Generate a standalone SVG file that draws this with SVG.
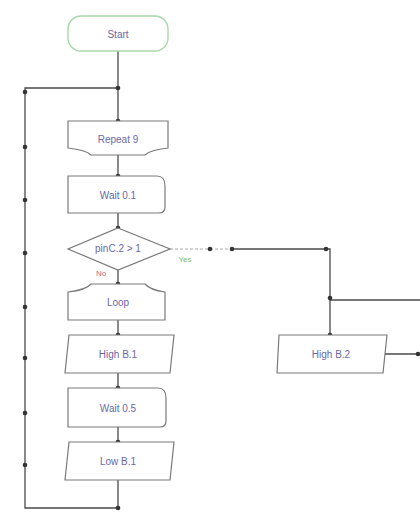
<svg xmlns="http://www.w3.org/2000/svg" width="420" height="514" viewBox="0 0 420 514">
<style>
.box{fill:#ffffff;stroke:#7a7a7a;stroke-width:1.2}
.start{fill:#ffffff;stroke:#a8d8a8;stroke-width:1.4}
.lbl{font-family:"Liberation Sans",Arial,sans-serif;font-size:10px;fill:#6a68a8;text-anchor:middle;dominant-baseline:central}
.ln{fill:none;stroke:#4a4a4a;stroke-width:1.3}
.lt{fill:none;stroke:#aaaaaa;stroke-width:1.2;stroke-dasharray:3 2}
.dot{fill:#333333}
</style>
<rect width="420" height="514" fill="#ffffff"/>
<g id="connectors">
<path class="ln" d="M118 51 V121"/>
<path class="ln" d="M118 88 H25 V508 H118 V480"/>
<path class="ln" d="M118 155 V176"/>
<path class="ln" d="M118 213 V228"/>
<path class="ln" d="M118 270 V284"/>
<path class="ln" d="M118 320 V335"/>
<path class="ln" d="M118 373 V388"/>
<path class="ln" d="M118 427 V442"/>
<path class="lt" d="M170 249 H232"/>
<path class="ln" d="M232 249 H330 V335"/>
<path class="ln" d="M330 300 H420"/>
<path class="ln" d="M385 354 H420"/>
<g class="dot">
<circle cx="118" cy="88" r="2.3"/><circle cx="118" cy="121" r="2.3"/><circle cx="118" cy="176" r="2.3"/>
<circle cx="118" cy="228" r="2.3"/><circle cx="118" cy="284" r="2.3"/><circle cx="118" cy="335" r="2.3"/>
<circle cx="118" cy="388" r="2.3"/><circle cx="118" cy="442" r="2.3"/><circle cx="118" cy="508" r="2.3"/>
<circle cx="25" cy="92" r="2.3"/><circle cx="25" cy="147" r="2.3"/><circle cx="25" cy="200" r="2.3"/>
<circle cx="25" cy="253" r="2.3"/><circle cx="25" cy="307" r="2.3"/><circle cx="25" cy="358" r="2.3"/>
<circle cx="25" cy="413" r="2.3"/><circle cx="25" cy="465" r="2.3"/>
<circle cx="210" cy="249" r="2.3"/><circle cx="232" cy="249" r="2.3"/><circle cx="326" cy="249" r="2.3"/>
<circle cx="330" cy="298" r="2.3"/><circle cx="330" cy="335" r="2.3"/><circle cx="418" cy="354" r="2.3"/>
</g>
<text x="185" y="259" class="lbl" style="fill:#7bbf7b;font-size:8px">Yes</text>
<text x="101" y="273" class="lbl" style="fill:#cc6677;font-size:8px">No</text>
</g>
<g id="start">
<rect class="start" x="68" y="16" width="100" height="35" rx="13"/>
<text x="118" y="34" class="lbl">Start</text>
</g>
<g id="repeat">
<path class="box" d="M68 121 H168 V148 Q150 150 145 155 H91 Q86 150 68 148 Z"/>
<text x="118" y="139" class="lbl">Repeat 9</text>
</g>
<g id="wait1">
<path class="box" d="M68 176 H157 Q165 176 165 186 V207 Q165 213 159 213 H68 Z"/>
<text x="118" y="195" class="lbl">Wait 0.1</text>
</g>
<g id="decision">
<path class="box" d="M118 228 L170 249 L118 270 L68 249 Z"/>
<text x="118" y="248" class="lbl">pinC.2 &gt; 1</text>
</g>
<g id="loop">
<path class="box" d="M68 320 V292 Q86 290 91 284 H145 Q150 290 165 292 V320 Z"/>
<text x="118" y="302" class="lbl">Loop</text>
</g>
<g id="high1">
<path class="box" d="M69 335 H174 L170 373 H65 Z"/>
<text x="118" y="354" class="lbl">High B.1</text>
</g>
<g id="wait2">
<path class="box" d="M68 388 H158 Q166 388 166 398 V421 Q166 427 160 427 H68 Z"/>
<text x="118" y="408" class="lbl">Wait 0.5</text>
</g>
<g id="low1">
<path class="box" d="M69 442 H174 L170 480 H65 Z"/>
<text x="118" y="461" class="lbl">Low B.1</text>
</g>
<g id="high2">
<path class="box" d="M279 335 H387 L383 373 H277 Z"/>
<text x="331" y="354" class="lbl">High B.2</text>
</g>
</svg>
